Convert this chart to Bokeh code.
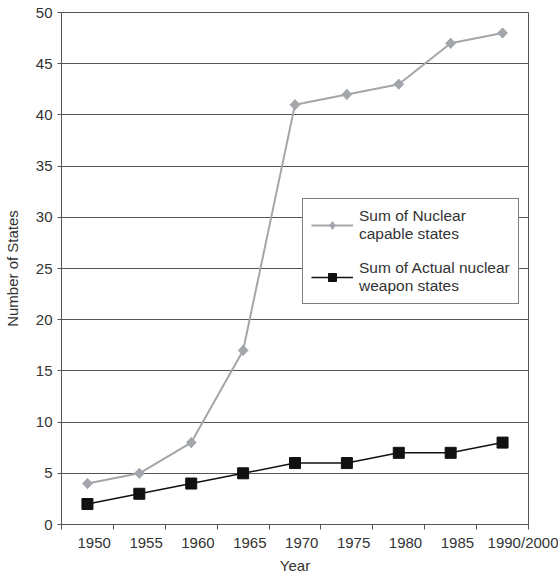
import numpy as np
from bokeh.plotting import figure
from bokeh.models import Range1d, FixedTicker, Legend, LegendItem
from bokeh.embed import file_html
from bokeh.resources import INLINE

years = ["1950", "1955", "1960", "1965", "1970", "1975", "1980", "1985", "1990/2000"]
capable = [4, 5, 8, 17, 41, 42, 43, 47, 48]
actual = [2, 3, 4, 5, 6, 6, 7, 7, 8]
y_ticks = list(range(0, 55, 5))

FONT = "Liberation Sans"
TXT = "#333333"
GRID = "#555555"

n = len(years)
xc = [i + 0.5 for i in range(n)]
# label centres drawn slightly right of category centres, as in the original
label_shift = [0.13] * (n - 1) + [0.40]
label_pos = [c + s for c, s in zip(xc, label_shift)]

p = figure(width=558, height=576, output_backend="svg", toolbar_location=None,
           x_range=Range1d(0, n), y_range=Range1d(0, 50),
           min_border_left=61, min_border_right=30, min_border_top=12, min_border_bottom=0)

p.background_fill_color = "white"
p.border_fill_color = "white"
p.outline_line_color = GRID
p.outline_line_width = 1

# x axis
p.xaxis.ticker = FixedTicker(ticks=label_pos, minor_ticks=list(range(0, n + 1)))
p.xaxis.major_label_overrides = {lp: y for lp, y in zip(label_pos, years)}
p.xaxis.major_tick_line_color = None
p.xaxis.minor_tick_line_color = GRID
p.xaxis.minor_tick_in = 0
p.xaxis.minor_tick_out = 5
p.xaxis.axis_line_color = GRID
p.xaxis.major_label_standoff = 3
p.xaxis.axis_label = "Year"
p.xaxis.axis_label_standoff = 3

# y axis
p.yaxis.ticker = FixedTicker(ticks=y_ticks, minor_ticks=[])
p.yaxis.major_tick_in = 0
p.yaxis.major_tick_out = 4
p.yaxis.major_tick_line_color = GRID
p.yaxis.axis_line_color = GRID
p.yaxis.major_label_standoff = 5
p.yaxis.axis_label = "Number of States"
p.yaxis.axis_label_standoff = 12

for ax in (p.xaxis[0], p.yaxis[0]):
    ax.major_label_text_font = FONT
    ax.major_label_text_font_size = "15px"
    ax.major_label_text_color = TXT
    ax.axis_label_text_font = FONT
    ax.axis_label_text_font_size = "15px"
    ax.axis_label_text_color = TXT
    ax.axis_label_text_font_style = "normal"

p.xgrid.grid_line_color = None
p.ygrid.ticker = FixedTicker(ticks=y_ticks)
p.ygrid.grid_line_color = GRID
p.ygrid.grid_line_width = 1

GREY = "#a3a6ab"
BLACK = "#111111"

l1 = p.line(xc, capable, line_color=GREY, line_width=2)
m1 = p.scatter(xc, capable, marker="square", angle=np.pi / 4, size=7,
               fill_color=GREY, line_color=GREY)
# diamond overlay (same colour) so the key also shows a diamond
m1_key = p.scatter(xc, capable, marker="diamond", size=10,
                   fill_color=GREY, line_color=GREY)
l2 = p.line(xc, actual, line_color=BLACK, line_width=1.5)
m2 = p.scatter(xc, actual, marker="square", size=11,
               fill_color=BLACK, line_color=BLACK)

legend = Legend(items=[
    LegendItem(label="Sum of Nuclear\ncapable states", renderers=[l1, m1_key]),
    LegendItem(label="Sum of Actual nuclear\nweapon states", renderers=[l2, m2]),
], location=(241, 220))
legend.border_line_color = "black"
legend.border_line_width = 1
legend.background_fill_color = "white"
legend.background_fill_alpha = 1
legend.label_text_font = FONT
legend.label_text_font_size = "15.5px"
legend.label_text_color = TXT
legend.label_text_line_height = 1.2
legend.glyph_width = 42
legend.label_standoff = 6
legend.padding = 8
legend.spacing = 16
legend.margin = 0
p.add_layout(legend, "center")

open("out.html", "w").write(file_html(p, INLINE))
